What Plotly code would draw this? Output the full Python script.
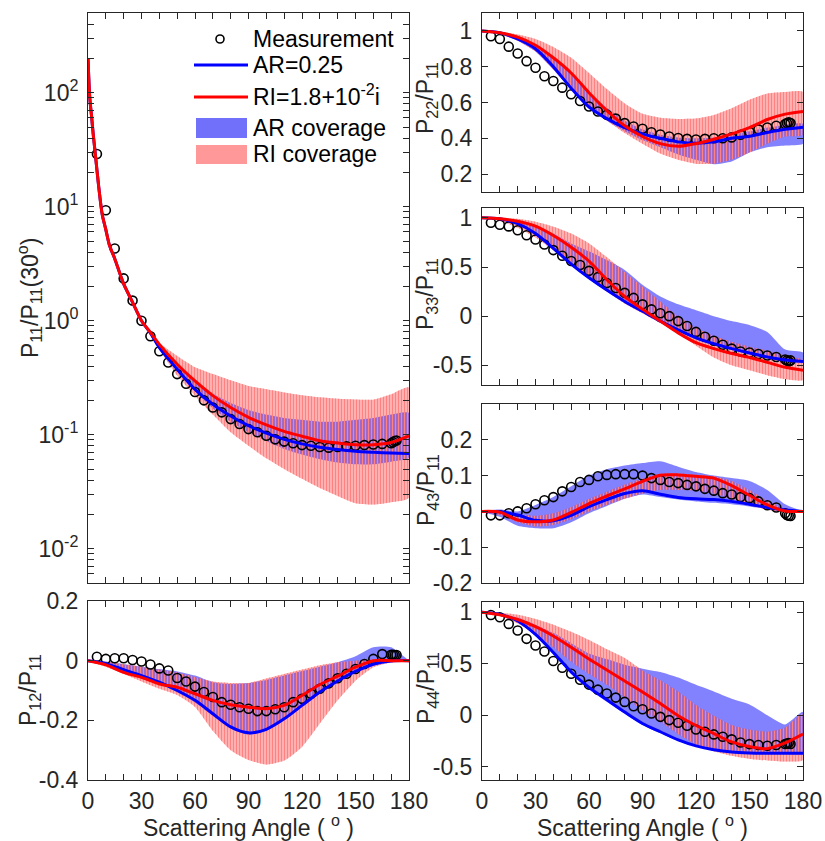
import plotly.graph_objects as go

FONT = "Liberation Sans, Arial, sans-serif"
FS = 23
AXC = "#262626"
BLUE = "#0000FF"
RED = "#FF0000"
BLUE_FILL = "rgba(0,0,255,0.49)"
RED_UNDER = "rgba(255,0,0,0.25)"
RED_STRIPE = "rgb(255,130,130)"

# ---------------- data ----------------
ANG = [0, 10, 20, 30, 40, 50, 60, 70, 80, 90, 100, 110, 120, 130, 140, 150, 160, 170, 180]
MEAS_ANG = [5, 10, 15, 20, 25, 30, 35, 40, 45, 50, 55, 60, 65, 70, 75, 80, 85, 90, 95, 100,
            105, 110, 115, 120, 125, 130, 135, 140, 145, 150, 155, 160, 165, 170, 171, 172, 173]

# P11 (log scale)
ANG11 = [0, 1, 2, 3, 4, 6, 8, 10, 12, 15, 20, 25, 30, 35, 40, 50, 60, 70, 80, 90, 100, 110,
         120, 130, 140, 150, 160, 170, 180]
AR11 = [200, 90, 62, 42, 30, 15, 8.5, 6.3, 4.6, 3.5, 2.1, 1.45, 1.0, 0.78, 0.58, 0.375, 0.25,
        0.185, 0.146, 0.12, 0.103, 0.091, 0.083, 0.0776, 0.074, 0.0714, 0.070, 0.069, 0.0685]
RI11 = [200, 90, 62, 42, 30, 15, 8.5, 6.3, 4.6, 3.5, 2.1, 1.45, 1.0, 0.79, 0.62, 0.415, 0.296,
        0.22, 0.173, 0.142, 0.122, 0.107, 0.097, 0.0885, 0.0845, 0.0817, 0.0817, 0.0855, 0.0977]
ANGC11 = [30, 40, 50, 60, 70, 80, 90, 100, 110, 120, 130, 140, 150, 160, 170, 180]
RI11_UP = [1.02, 0.64, 0.49, 0.39, 0.34, 0.30, 0.268, 0.25, 0.235, 0.222, 0.213, 0.207, 0.204, 0.203, 0.226, 0.259]
RI11_LO = [0.98, 0.56, 0.33, 0.22, 0.15, 0.105, 0.08, 0.062, 0.05, 0.041, 0.034, 0.029, 0.025, 0.0244, 0.0256, 0.028]
AR11_UP = [1.0, 0.6, 0.41, 0.3, 0.23, 0.19, 0.165, 0.15, 0.14, 0.135, 0.13, 0.13, 0.135, 0.14, 0.15, 0.155]
AR11_LO = [1.0, 0.56, 0.36, 0.24, 0.17, 0.13, 0.105, 0.088, 0.075, 0.067, 0.061, 0.057, 0.055, 0.055, 0.058, 0.063]
MEAS11 = [29, 9.3, 4.3, 2.35, 1.5, 1.0, 0.73, 0.54, 0.43, 0.34, 0.28, 0.237, 0.20, 0.173, 0.157,
          0.137, 0.124, 0.112, 0.105, 0.098, 0.091, 0.087, 0.084, 0.081, 0.080, 0.078, 0.077,
          0.078, 0.079, 0.080, 0.081, 0.082, 0.083, 0.084, 0.086, 0.088, 0.089]

# P12
AR12 = [0, -0.01, -0.03, -0.05, -0.072, -0.1, -0.133, -0.178, -0.222, -0.242, -0.23, -0.195,
        -0.15, -0.105, -0.068, -0.036, -0.012, -0.001, 0]
RI12 = [0, -0.014, -0.039, -0.056, -0.078, -0.089, -0.111, -0.133, -0.148, -0.156, -0.161, -0.15,
        -0.117, -0.08, -0.052, -0.022, 0.0, 0.0, 0.0]
AR12_UP = [0, -0.003, -0.012, -0.02, -0.028, -0.036, -0.05, -0.072, -0.078, -0.075, -0.065, -0.05,
           -0.035, -0.02, -0.005, 0.015, 0.045, 0.045, 0]
AR12_LO = [0, -0.012, -0.035, -0.058, -0.08, -0.105, -0.14, -0.185, -0.228, -0.248, -0.235, -0.2,
           -0.155, -0.11, -0.072, -0.04, -0.015, -0.003, 0]
RI12_UP = [0, -0.004, -0.012, -0.02, -0.03, -0.04, -0.055, -0.07, -0.075, -0.075, -0.06, -0.045,
           -0.03, -0.015, -0.005, 0.0, 0.005, 0.005, 0]
RI12_LO = [0, -0.02, -0.044, -0.07, -0.094, -0.115, -0.155, -0.235, -0.3, -0.333, -0.348, -0.335,
           -0.289, -0.211, -0.133, -0.067, -0.022, -0.006, 0]
MEAS12 = [0.013, 0.006, 0.008, 0.008, 0.002, -0.003, -0.013, -0.026, -0.033, -0.058, -0.07, -0.087,
          -0.105, -0.122, -0.139, -0.148, -0.156, -0.161, -0.169, -0.169, -0.163, -0.156, -0.139,
          -0.128, -0.111, -0.094, -0.076, -0.059, -0.044, -0.028, -0.011, 0.006, 0.022, 0.02,
          0.02, 0.019, 0.019]

# P22
AR22 = [1.0, 0.99, 0.955, 0.9, 0.8, 0.68, 0.575, 0.51, 0.46, 0.425, 0.40, 0.38, 0.372, 0.38, 0.40,
        0.412, 0.432, 0.45, 0.462]
RI22 = [1.0, 0.99, 0.965, 0.92, 0.85, 0.765, 0.655, 0.555, 0.47, 0.41, 0.37, 0.355, 0.37, 0.395,
        0.425, 0.46, 0.505, 0.535, 0.55]
RI22_UP = [1.0, 0.995, 0.98, 0.955, 0.91, 0.85, 0.765, 0.675, 0.595, 0.537, 0.515, 0.508, 0.51,
           0.53, 0.568, 0.615, 0.65, 0.659, 0.659]
RI22_LO = [1.0, 0.98, 0.945, 0.885, 0.785, 0.675, 0.575, 0.5, 0.43, 0.37, 0.315, 0.28, 0.258,
           0.258, 0.28, 0.32, 0.37, 0.41, 0.42]
AR22_UP = [1.0, 0.99, 0.965, 0.92, 0.85, 0.76, 0.66, 0.57, 0.5, 0.45, 0.42, 0.405, 0.40, 0.405,
           0.42, 0.44, 0.46, 0.475, 0.48]
AR22_LO = [1.0, 0.985, 0.945, 0.885, 0.785, 0.675, 0.575, 0.5, 0.44, 0.39, 0.35, 0.31, 0.28, 0.255,
           0.27, 0.32, 0.35, 0.36, 0.37]
MEAS22 = [0.97, 0.955, 0.912, 0.874, 0.831, 0.794, 0.747, 0.72, 0.683, 0.646, 0.608, 0.578, 0.55,
          0.532, 0.51, 0.485, 0.466, 0.453, 0.434, 0.421, 0.41, 0.402, 0.397, 0.393, 0.397, 0.40,
          0.40, 0.405, 0.42, 0.435, 0.45, 0.46, 0.47, 0.48, 0.485, 0.49, 0.485]

# P33
AR33 = [1, 0.99, 0.94, 0.84, 0.69, 0.53, 0.39, 0.265, 0.15, 0.05, -0.05, -0.14, -0.22, -0.28,
        -0.33, -0.375, -0.415, -0.445, -0.46]
RI33 = [1, 0.99, 0.965, 0.915, 0.82, 0.7, 0.56, 0.37, 0.2, 0.07, -0.05, -0.17, -0.27, -0.33, -0.38,
        -0.42, -0.47, -0.52, -0.55]
RI33_UP = [1, 1.0, 0.99, 0.96, 0.91, 0.84, 0.74, 0.6, 0.45, 0.3, 0.15, 0.0, -0.12, -0.2, -0.26,
           -0.31, -0.35, -0.4, -0.45]
RI33_LO = [1, 0.97, 0.9, 0.8, 0.67, 0.52, 0.38, 0.25, 0.13, 0.03, -0.07, -0.18, -0.3, -0.42, -0.5,
           -0.55, -0.6, -0.64, -0.65]
AR33_UP = [1, 0.995, 0.97, 0.92, 0.84, 0.74, 0.66, 0.57, 0.47, 0.32, 0.2, 0.12, 0.06, 0.0, -0.05,
           -0.09, -0.16, -0.34, -0.37]
AR33_LO = [1, 0.985, 0.93, 0.83, 0.68, 0.52, 0.38, 0.255, 0.14, 0.04, -0.06, -0.15, -0.23, -0.29,
           -0.34, -0.385, -0.425, -0.455, -0.47]
MEAS33 = [0.95, 0.93, 0.913, 0.873, 0.823, 0.779, 0.729, 0.672, 0.615, 0.561, 0.521, 0.461, 0.397,
          0.337, 0.287, 0.237, 0.186, 0.12, 0.069, 0.029, 0.0, -0.05, -0.1, -0.16, -0.21, -0.25,
          -0.29, -0.33, -0.36, -0.37, -0.385, -0.40, -0.415, -0.44, -0.45, -0.46, -0.45]

# P43
AR43 = [0, -0.001, -0.01, -0.025, -0.026, -0.011, 0.013, 0.033, 0.05, 0.058, 0.048, 0.039, 0.035,
        0.033, 0.028, 0.02, 0.011, 0.004, 0]
RI43 = [0, -0.002, -0.024, -0.029, -0.024, -0.003, 0.022, 0.043, 0.063, 0.084, 0.101, 0.102,
        0.098, 0.093, 0.072, 0.045, 0.018, 0.001, 0]
AR43_UP = [0, 0.005, 0.0, 0.018, 0.04, 0.07, 0.1, 0.118, 0.128, 0.135, 0.14, 0.125, 0.11, 0.1,
           0.093, 0.085, 0.06, 0.02, 0]
AR43_LO = [0, -0.015, -0.04, -0.047, -0.047, -0.03, -0.005, 0.015, 0.035, 0.047, 0.04, 0.033,
           0.028, 0.024, 0.02, 0.014, 0.007, 0.0, 0]
RI43_UP = [0, 0.003, -0.008, -0.012, -0.005, 0.012, 0.035, 0.055, 0.075, 0.092, 0.105, 0.106,
           0.102, 0.098, 0.085, 0.06, 0.03, 0.008, 0]
RI43_LO = [0, -0.01, -0.03, -0.042, -0.038, -0.022, 0.0, 0.018, 0.035, 0.05, 0.06, 0.06, 0.058,
           0.05, 0.035, 0.018, 0.005, -0.005, 0]
MEAS43 = [-0.011, -0.011, -0.005, 0.0, 0.009, 0.02, 0.031, 0.04, 0.056, 0.068, 0.082, 0.088, 0.098,
          0.102, 0.104, 0.104, 0.104, 0.1, 0.093, 0.088, 0.082, 0.079, 0.074, 0.07, 0.063, 0.058,
          0.051, 0.047, 0.04, 0.037, 0.028, 0.017, 0.011, -0.005, -0.01, -0.012, -0.013]

# P44
AR44 = [1, 0.98, 0.915, 0.785, 0.61, 0.42, 0.27, 0.15, 0.03, -0.081, -0.161, -0.24, -0.298, -0.335,
        -0.358, -0.367, -0.37, -0.371, -0.371]
RI44 = [1, 0.975, 0.93, 0.86, 0.77, 0.66, 0.545, 0.44, 0.333, 0.226, 0.113, -0.005, -0.1, -0.18,
        -0.26, -0.305, -0.325, -0.27, -0.184]
RI44_UP = [1, 0.995, 0.975, 0.935, 0.88, 0.81, 0.73, 0.64, 0.555, 0.435, 0.339, 0.23, 0.1, -0.005,
           -0.095, -0.14, -0.16, -0.12, 0.016]
RI44_LO = [1, 0.965, 0.89, 0.79, 0.66, 0.52, 0.4, 0.295, 0.175, 0.048, -0.065, -0.185, -0.285,
           -0.35, -0.395, -0.425, -0.44, -0.45, -0.435]
AR44_UP = [1, 0.985, 0.95, 0.88, 0.8, 0.7, 0.6, 0.545, 0.49, 0.452, 0.419, 0.365, 0.295, 0.23,
           0.16, 0.105, 0.0, -0.09, 0.032]
AR44_LO = [1, 0.975, 0.905, 0.77, 0.59, 0.4, 0.25, 0.13, 0.015, -0.095, -0.175, -0.25, -0.305,
           -0.34, -0.36, -0.37, -0.373, -0.374, -0.374]
MEAS44 = [0.974, 0.952, 0.887, 0.823, 0.742, 0.677, 0.619, 0.526, 0.461, 0.403, 0.345, 0.297, 0.248,
          0.21, 0.171, 0.129, 0.087, 0.058, 0.016, -0.016, -0.048, -0.074, -0.103, -0.139, -0.161,
          -0.187, -0.21, -0.235, -0.265, -0.281, -0.29, -0.297, -0.29, -0.28, -0.275, -0.27, -0.28]

X_TICKS = [0, 10, 20, 30, 40, 50, 60, 70, 80, 90, 100, 110, 120, 130, 140, 150, 160, 170, 180]
X_LABELS = ["0", "", "", "30", "", "", "60", "", "", "90", "", "", "120", "", "", "150", "", "", "180"]

LEGEND_LABELS = ["Measurement", "AR=0.25", "RI=1.8+10<sup>-2</sup>i", "AR coverage", "RI coverage"]

# ---------------- figure ----------------
W, H = 825, 841
fig = go.Figure()

def px_dom_x(a, b):
    return [a / W, b / W]

def px_dom_y(top, bottom):
    return [1 - bottom / H, 1 - top / H]

panels = {
    1: dict(x=px_dom_x(88, 409), y=px_dom_y(13, 583)),
    2: dict(x=px_dom_x(88, 409), y=px_dom_y(601, 780)),
    3: dict(x=px_dom_x(482, 803), y=px_dom_y(13, 192)),
    4: dict(x=px_dom_x(482, 803), y=px_dom_y(208, 385)),
    5: dict(x=px_dom_x(482, 803), y=px_dom_y(404, 583)),
    6: dict(x=px_dom_x(482, 803), y=px_dom_y(602, 780)),
}

def ax_names(i):
    return ("x" if i == 1 else f"x{i}"), ("y" if i == 1 else f"y{i}")

def band_xy(ang, up, lo):
    return list(ang) + list(ang)[::-1], list(up) + list(lo)[::-1]

def add_band(i, ang, up, lo, fillcolor=None, pattern=None):
    xa, ya = ax_names(i)
    bx, by = band_xy(ang, up, lo)
    kw = dict(fill="toself", mode="lines", line=dict(width=0, shape="spline", smoothing=0.6),
              showlegend=False, xaxis=xa, yaxis=ya, hoverinfo="skip")
    if pattern is not None:
        kw["fillpattern"] = pattern
        kw["fillcolor"] = "rgba(0,0,0,0)"
    else:
        kw["fillcolor"] = fillcolor
    fig.add_trace(go.Scatter(x=bx, y=by, **kw))

def add_line(i, ang, vals, color):
    xa, ya = ax_names(i)
    fig.add_trace(go.Scatter(
        x=ang, y=vals, mode="lines", line=dict(color=color, width=3, shape="spline", smoothing=0.8),
        showlegend=False, xaxis=xa, yaxis=ya))

def add_meas(i, vals):
    xa, ya = ax_names(i)
    fig.add_trace(go.Scatter(
        x=MEAS_ANG, y=vals, mode="markers",
        marker=dict(symbol="circle-open", size=9, color="black", line=dict(width=1.6, color="black")),
        showlegend=False, xaxis=xa, yaxis=ya))

stripe = dict(shape="|", fgcolor=RED_STRIPE, bgcolor="rgba(0,0,0,0)", size=3, solidity=0.5,
              fillmode="replace")

series = {
    1: (ANGC11, AR11_UP, AR11_LO, RI11_UP, RI11_LO, ANG11, AR11, RI11, MEAS11),
    2: (ANG, AR12_UP, AR12_LO, RI12_UP, RI12_LO, ANG, AR12, RI12, MEAS12),
    3: (ANG, AR22_UP, AR22_LO, RI22_UP, RI22_LO, ANG, AR22, RI22, MEAS22),
    4: (ANG, AR33_UP, AR33_LO, RI33_UP, RI33_LO, ANG, AR33, RI33, MEAS33),
    5: (ANG, AR43_UP, AR43_LO, RI43_UP, RI43_LO, ANG, AR43, RI43, MEAS43),
    6: (ANG, AR44_UP, AR44_LO, RI44_UP, RI44_LO, ANG, AR44, RI44, MEAS44),
}

for i, (cang, aup, alo, rup, rlo, lang, ar, ri, meas) in series.items():
    add_band(i, cang, rup, rlo, fillcolor=RED_UNDER)
    add_band(i, cang, aup, alo, fillcolor=BLUE_FILL)
    add_band(i, cang, rup, rlo, pattern=stripe)
    add_meas(i, meas)
    add_line(i, lang, ar, BLUE)
    add_line(i, lang, ri, RED)

# axes
common = dict(showline=True, linecolor=AXC, linewidth=1, mirror="ticks", ticks="inside",
              ticklen=6, tickwidth=1, tickcolor=AXC, showgrid=False, zeroline=False,
              automargin=False,
              tickfont=dict(family=FONT, size=FS, color=AXC))

yranges = {2: [-0.4, 0.2], 3: [0.1, 1.1], 4: [-0.7, 1.1], 5: [-0.2, 0.3], 6: [-0.63, 1.1]}
yticks = {
    2: ([-0.4, -0.2, 0, 0.2], ["-0.4", "-0.2", "0", "0.2"]),
    3: ([0.2, 0.4, 0.6, 0.8, 1.0], ["0.2", "0.4", "0.6", "0.8", "1"]),
    4: ([-0.5, 0, 0.5, 1.0], ["-0.5", "0", "0.5", "1"]),
    5: ([-0.2, -0.1, 0, 0.1, 0.2], ["-0.2", "-0.1", "0", "0.1", "0.2"]),
    6: ([-0.5, 0, 0.5, 1.0], ["-0.5", "0", "0.5", "1"]),
}

log_vals, log_text = [], []
for e in [-3, -2, -1, 0, 1, 2]:
    for m in range(1, 10):
        v = m * 10.0 ** e
        if 0.005 <= v <= 500:
            log_vals.append(v)
            log_text.append(f"10<sup>{e}</sup>" if m == 1 else "")

layout_axes = {}
for i, p in panels.items():
    xk = "xaxis" if i == 1 else f"xaxis{i}"
    yk = "yaxis" if i == 1 else f"yaxis{i}"
    xa, ya = ax_names(i)
    bottom = i in (2, 6)
    layout_axes[xk] = dict(common, domain=p["x"], range=[0, 180], tickmode="array",
                           tickvals=X_TICKS, ticktext=X_LABELS if bottom else [""] * len(X_TICKS),
                           showticklabels=bottom, anchor=ya)
    if i == 1:
        layout_axes[yk] = dict(common, domain=p["y"], type="log", range=[-2.301, 2.699],
                               tickmode="array", tickvals=log_vals, ticktext=log_text, anchor=xa,
                               ticklabelstandoff=4)
    else:
        tv, tt = yticks[i]
        layout_axes[yk] = dict(common, domain=p["y"], range=yranges[i], tickmode="array",
                               tickvals=tv, ticktext=tt, anchor=xa, ticklabelstandoff=4)

fig.update_layout(**layout_axes)

annos = []
shapes = []

def ytitle(text, xpx, ycpx):
    annos.append(dict(text=text, x=xpx / W, y=1 - ycpx / H, xref="paper", yref="paper",
                      textangle=-90, showarrow=False, xanchor="center", yanchor="middle",
                      font=dict(family=FONT, size=FS, color=AXC)))

ytitle("P<sub>11</sub>/P<sub>11</sub>(30<sup>o</sup>)", 29, 298)
ytitle("P<sub>12</sub>/P<sub>11</sub>", 29, 690)
ytitle("P<sub>22</sub>/P<sub>11</sub>", 427, 98)
ytitle("P<sub>33</sub>/P<sub>11</sub>", 427, 294)
ytitle("P<sub>43</sub>/P<sub>11</sub>", 427, 490)
ytitle("P<sub>44</sub>/P<sub>11</sub>", 427, 688)

for xc in (248, 642):
    annos.append(dict(text="Scattering Angle ( <sup>o</sup> )", x=xc / W, y=1 - 826 / H,
                      xref="paper", yref="paper", showarrow=False, xanchor="center",
                      yanchor="middle", font=dict(family=FONT, size=FS, color=AXC)))

# legend drawn in the first panel (paper coordinates)
def px_x(v):
    return v / W

def px_y(v):
    return 1 - v / H

LEG_Y = [39, 65, 95, 128, 154]
shapes.append(dict(type="circle", xref="paper", yref="paper", x0=px_x(216), x1=px_x(224),
                   y0=px_y(43), y1=px_y(35), line=dict(color="black", width=1.6)))
shapes.append(dict(type="line", xref="paper", yref="paper", x0=px_x(194), x1=px_x(248),
                   y0=px_y(65), y1=px_y(65), line=dict(color=BLUE, width=3)))
shapes.append(dict(type="line", xref="paper", yref="paper", x0=px_x(194), x1=px_x(248),
                   y0=px_y(97), y1=px_y(97), line=dict(color=RED, width=3)))
shapes.append(dict(type="rect", xref="paper", yref="paper", x0=px_x(196), x1=px_x(247),
                   y0=px_y(138), y1=px_y(118), fillcolor="rgb(112,112,250)", line=dict(width=0)))
shapes.append(dict(type="rect", xref="paper", yref="paper", x0=px_x(196), x1=px_x(247),
                   y0=px_y(164), y1=px_y(145), fillcolor="rgb(255,153,153)", line=dict(width=0)))
for lab, yc in zip(LEGEND_LABELS, LEG_Y):
    annos.append(dict(text=lab, x=px_x(251), y=px_y(yc), xref="paper", yref="paper",
                      showarrow=False, xanchor="left", yanchor="middle",
                      font=dict(family=FONT, size=FS, color="black")))

fig.update_layout(
    width=W, height=H, margin=dict(l=0, r=0, t=0, b=0, autoexpand=False),
    paper_bgcolor="white", plot_bgcolor="white",
    font=dict(family=FONT, size=FS, color="black"),
    annotations=annos, shapes=shapes, showlegend=False,
)

fig.write_html("out.html", config={"displayModeBar": False},
               post_script="document.body.style.margin='0';")
